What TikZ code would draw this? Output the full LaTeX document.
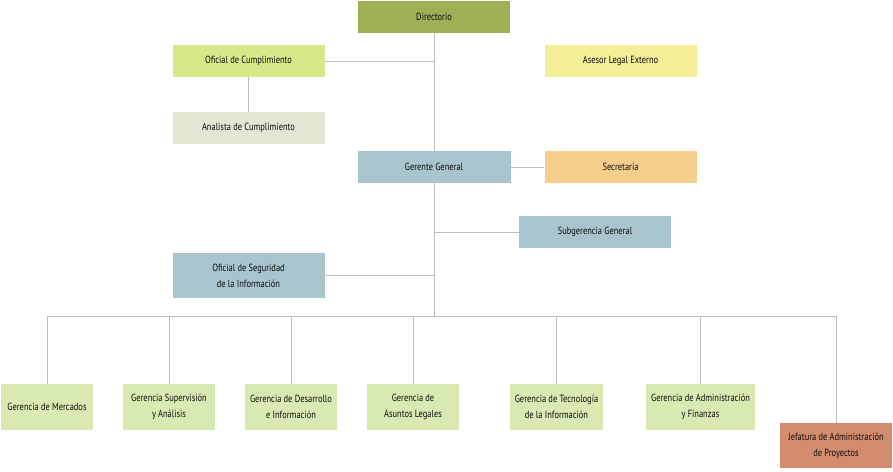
\documentclass[tikz,border=0pt]{standalone}
\usepackage{fontspec}
\setmainfont{PT Sans}[FakeStretch=0.81]
\usepackage{tikz}
\usetikzlibrary{positioning, calc}

\definecolor{DirGreen}{RGB}{157, 176, 86}
\definecolor{LimeGreen}{RGB}{214, 233, 138}
\definecolor{PaleGreen}{RGB}{216, 234, 178}
\definecolor{Sage}{RGB}{226, 230, 210}
\definecolor{Butter}{RGB}{245, 238, 152}
\definecolor{SteelBlue}{RGB}{168, 196, 204}
\definecolor{Apricot}{RGB}{245, 206, 140}
\definecolor{Terracotta}{RGB}{212, 140, 110}
\definecolor{LineGray}{RGB}{190, 190, 190}

\begin{document}
\begin{tikzpicture}[
        x=1pt, y=-1pt,
        unit/.style={rectangle, inner sep=1pt, align=center, text=black!95,
            font=\fontsize{10.4}{16}\selectfont},
        wide/.style={unit, minimum width=152pt, minimum height=32pt},
        gerencia/.style={unit, fill=PaleGreen, minimum width=92pt, minimum height=46pt},
        link/.style={draw=LineGray, line width=0.8pt}
    ]
        \useasboundingbox (0,0) rectangle (893,471);

        % Top level
        \node[wide, fill=DirGreen] (dir) at (434,17) {Directorio};
        \node[wide, fill=LimeGreen] (ofc) at (248.5,61) {Oficial de Cumplimiento};
        \node[wide, fill=Butter] (ase) at (620.5,61) {Asesor Legal Externo};
        \node[wide, fill=Sage] (ana) at (248.5,128) {Analista de Cumplimiento};

        % Management
        \node[wide, fill=SteelBlue, minimum width=153pt] (gg) at (434,167) {Gerente General};
        \node[wide, fill=Apricot] (sec) at (620.5,167) {Secretaría};
        \node[wide, fill=SteelBlue] (sub) at (595,232) {Subgerencia General};
        \node[wide, fill=SteelBlue, minimum height=45pt] (osi) at (248.5,275.5) {Oficial de Seguridad\\de la Información};

        % Gerencias
        \coordinate (bus) at (434,316);
        \node[gerencia] (gme) at (47,407) {Gerencia de Mercados};
        \node[gerencia] (gsa) at (169,407) {Gerencia Supervisión\\y Análisis};
        \node[gerencia] (gdi) at (291,407) {Gerencia de Desarrollo\\e Información};
        \node[gerencia] (gal) at (413,407) {Gerencia de\\Asuntos Legales};
        \node[gerencia, minimum width=93pt] (gti) at (556.5,407) {Gerencia de Tecnología\\de la Información};
        \node[gerencia, minimum width=109pt] (gaf) at (700.5,407) {Gerencia de Administración\\y Finanzas};
        \node[gerencia, fill=Terracotta, minimum width=112pt, minimum height=45pt] (jap) at (836,445.5) {Jefatura de Administración\\de Proyectos};

        % Lines
        \draw[link] (dir) -- (gg);
        \draw[link] (ofc) -- (ofc -| dir.south);
        \draw[link] (ofc) -- (ana);
        \draw[link] (gg) -- (sec);
        \draw[link] (gg) -- (bus);
        \draw[link] (sub) -- (sub -| gg.south);
        \draw[link] (osi) -- (osi -| gg.south);
        \draw[link] (gme.north) -- (gme.north |- bus) -- (jap.north |- bus) -- (jap.north);
        \foreach \g in {gsa, gdi, gal, gti, gaf}
            \draw[link] (\g.north) -- (\g.north |- bus);
    \end{tikzpicture}
\end{document}
